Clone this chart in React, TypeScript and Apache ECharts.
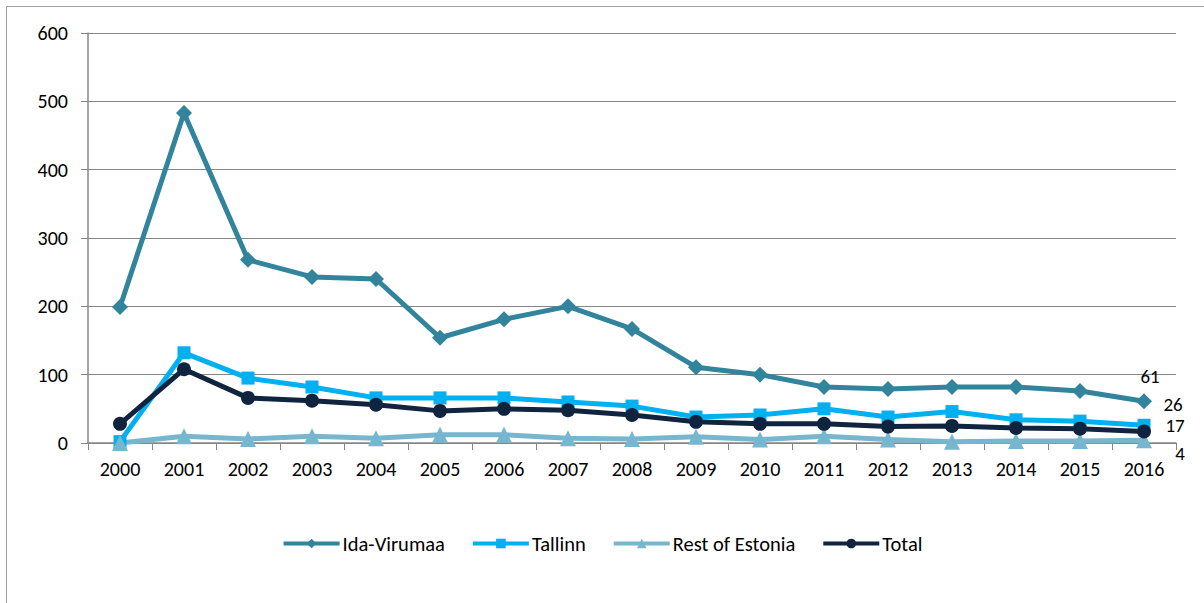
import React, { useEffect, useRef } from "react";
import * as echarts from "echarts";

const years = ["2000","2001","2002","2003","2004","2005","2006","2007","2008","2009","2010","2011","2012","2013","2014","2015","2016"];
const idaVirumaa = [199, 483, 268, 243, 240, 154, 181, 200, 167, 111, 100, 82, 79, 82, 82, 76, 61];
const tallinn = [2, 132, 95, 82, 66, 66, 66, 60, 54, 38, 41, 50, 38, 46, 34, 32, 26];
const restOfEstonia = [0, 10, 6, 10, 7, 12, 12, 7, 6, 9, 5, 10, 5, 2, 3, 3, 4];
const total = [28, 108, 66, 62, 56, 47, 50, 48, 41, 31, 28, 28, 24, 25, 22, 21, 17];

const FONT = "Carlito, Lato, 'Liberation Sans', sans-serif";

export default function App() {
  const ref = useRef<HTMLDivElement>(null);
  useEffect(() => {
    document.body.style.margin = "0";
    const chart = echarts.init(ref.current!, undefined, { renderer: "svg" });
    const last = years.length - 1;
    const mk = (name: string, data: number[], color: string, symbol: string, size: number, offset: number[]) => ({
      name,
      type: "line",
      data,
      symbol,
      symbolSize: size,
      lineStyle: { color, width: 5 },
      itemStyle: { color },
      label: {
        show: true,
        position: "inside",
        offset,
        color: "#000",
        fontSize: 19,
        lineHeight: 19,
        fontFamily: FONT,
        formatter: (p: any) => (p.dataIndex === last ? String(p.value) : ""),
      },
    });
    chart.setOption({
      animation: false,
      backgroundColor: "#fff",
      textStyle: { fontFamily: FONT },
      graphic: [
        { type: "rect", shape: { x: 6.5, y: 6.5, width: 1220, height: 620 }, style: { fill: "none", stroke: "#a0a0a0", lineWidth: 1 }, silent: true },
      ],
      grid: { left: 88, right: 28, top: 33, bottom: 160 },
      legend: {
        data: ["Ida-Virumaa", "Tallinn", "Rest of Estonia", "Total"],
        top: 528,
        left: "center",
        itemWidth: 56,
        itemHeight: 12,
        itemGap: 26,
        lineStyle: { width: 4 },
        textStyle: { fontSize: 20.5, color: "#000", fontFamily: FONT, padding: [0, 0, 0, -2] },
      },
      xAxis: {
        type: "category",
        data: years,
        boundaryGap: true,
        axisLine: { lineStyle: { color: "#868686", width: 1.5 } },
        axisTick: { show: true, length: 7, lineStyle: { color: "#868686" } },
        axisLabel: { color: "#000", fontSize: 20, fontFamily: FONT, margin: 16, interval: 0 },
      },
      yAxis: {
        type: "value",
        min: 0,
        max: 600,
        interval: 100,
        axisLine: { show: true, lineStyle: { color: "#868686", width: 1.5 } },
        axisTick: { show: true, length: 7, lineStyle: { color: "#868686" } },
        axisLabel: { color: "#000", fontSize: 20, fontFamily: FONT, margin: 20 },
        splitLine: { lineStyle: { color: "#868686", width: 1.2 } },
      },
      series: [
        mk("Ida-Virumaa", idaVirumaa, "#31849B", "diamond", 16, [6, -25]),
        mk("Tallinn", tallinn, "#00B0F0", "rect", 13, [29, -21]),
        mk("Rest of Estonia", restOfEstonia, "#77B6CF", "triangle", 16, [36, 13]),
        mk("Total", total, "#10243F", "circle", 14, [31, -6]),
      ],
    });
    return () => chart.dispose();
  }, []);
  return <div ref={ref} style={{ width: 1204, height: 603 }} />;
}
